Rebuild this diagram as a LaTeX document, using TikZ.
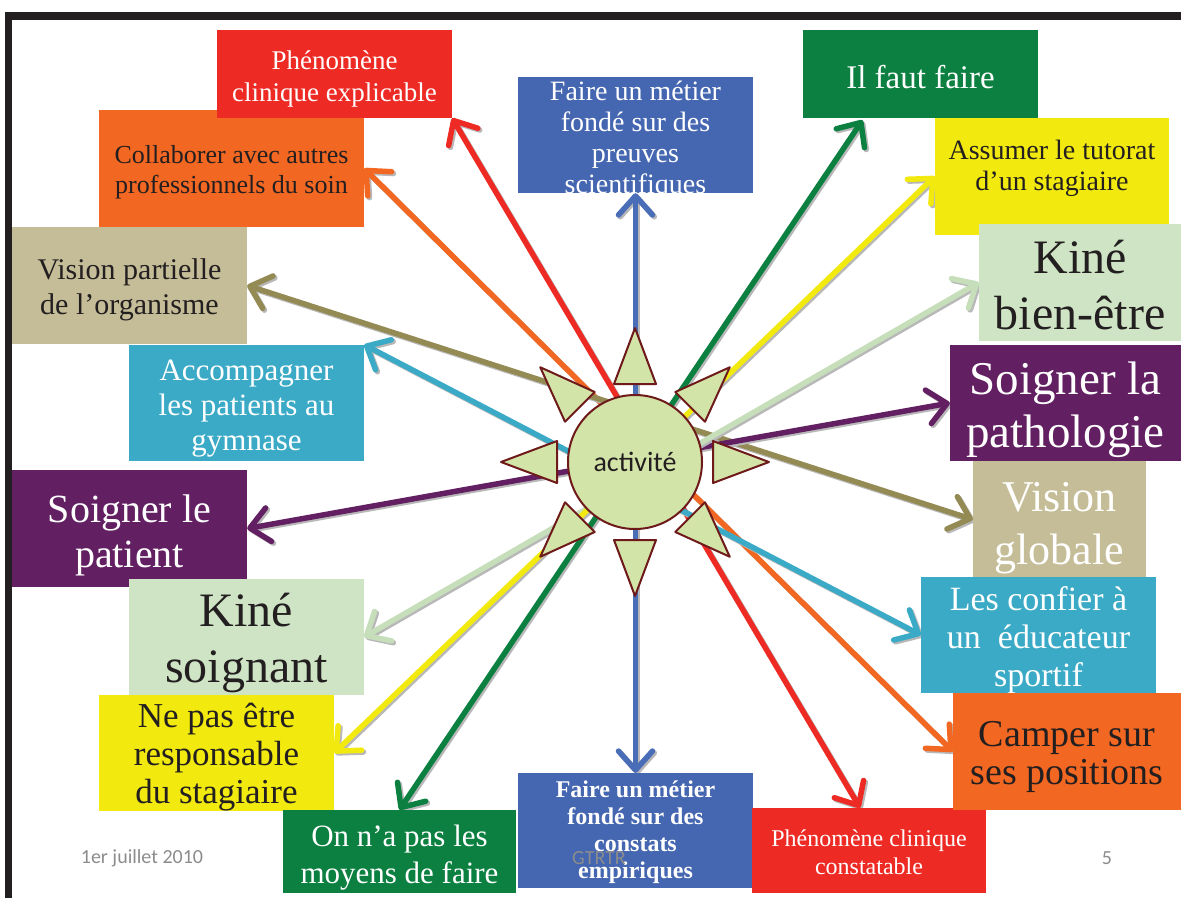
\documentclass[tikz,border=0pt]{standalone}
\usepackage{fontspec}
\setmainfont{Liberation Serif}
\newfontfamily\calib{Carlito}
\usetikzlibrary{arrows.meta,calc}
\pgfdeclarelayer{back}
\pgfdeclarelayer{bg}
\pgfsetlayers{back,bg,main}
\definecolor{cRed}{HTML}{EE2A24}
\definecolor{cOrange}{HTML}{F26722}
\definecolor{cBlue}{HTML}{4566B0}
\definecolor{cBlueL}{HTML}{4A6DB8}
\definecolor{cGreen}{HTML}{0B8040}
\definecolor{cYellow}{HTML}{F2E90F}
\definecolor{cLight}{HTML}{CFE4C4}
\definecolor{cLightA}{HTML}{C6DEBA}
\definecolor{cPurple}{HTML}{621F62}
\definecolor{cTan}{HTML}{C4BD97}
\definecolor{cTanD}{HTML}{948A54}
\definecolor{cCyan}{HTML}{3BAAC6}
\definecolor{cDark}{HTML}{231F20}
\definecolor{cBall}{HTML}{D3E4A8}
\definecolor{cBallEdge}{HTML}{6E1A1A}
\definecolor{cFrame}{HTML}{231F20}
\definecolor{cFoot}{HTML}{8C8C8C}
\tikzset{
  box/.style={rectangle, inner sep=0pt, draw=none},
  txt/.style={inner sep=0pt, align=center},
  fs/.style 2 args={font=\fontsize{#1}{#2}\selectfont},
  fsb/.style 2 args={font=\fontsize{#1}{#2}\selectfont\bfseries},
  barb/.tip={Straight Barb[length=19pt,width=34pt,round]},
  link/.style={line width=5.5pt, barb-barb},
  linkshadow/.style={link, draw=black!28, transform canvas={shift={(1.8pt,-1.8pt)}}},
  bump/.style={fill=cBall, draw=cBallEdge, line width=2pt, line join=round},
  foot/.style={text=cFoot, font=\calib\fontsize{20}{24}\selectfont, inner sep=0pt},
}
\newcommand\conn[3]{%
  \draw[linkshadow] (#2) -- (#3);
  \draw[link, draw=#1] (#2) -- (#3);}
\begin{document}
\begin{tikzpicture}[x=1pt, y=-1pt]
\useasboundingbox (0,0) rectangle (1181,898);
\begin{pgfonlayer}{back}
\fill[white] (0,0) rectangle (1181,898);
\end{pgfonlayer}
% frame
\fill[cFrame] (5,12) rectangle (1181,20);
\fill[cFrame] (5,12) rectangle (12,898);
% footer
\node[foot] (date) at (142,858) {1er juillet 2010};
\node[foot] (page) at (1107,858) {5};
% left boxes
\node[box, fill=cOrange, minimum width=265pt, minimum height=117pt] (collab) at (231.5,168.5) {};
\node[txt, text=cDark, fs={26}{30}] (collabT) at ($(collab)+(0,4)$) {Collaborer avec autres\\professionnels du soin};
\node[box, fill=cRed, minimum width=235pt, minimum height=88pt] (expl) at (334.5,74) {};
\node[txt, text=white, fs={27}{32}] (explT) at ($(expl)+(0,5)$) {Phénomène\\clinique explicable};
\node[box, fill=cTan, minimum width=235pt, minimum height=117pt] (partielle) at (129.5,285.5) {};
\node[txt, text=cDark, fs={30}{35}] (partielleT) at ($(partielle)+(0,4)$) {Vision partielle\\de l’organisme};
\node[box, fill=cCyan, minimum width=235pt, minimum height=116pt] (accomp) at (246.5,403) {};
\node[txt, text=white, fs={31}{35}] (accompT) at ($(accomp)+(0,6)$) {Accompagner\\les patients au\\gymnase};
\node[box, fill=cPurple, minimum width=235pt, minimum height=117pt] (patient) at (129.5,528.5) {};
\node[txt, text=white, fs={40}{45}] (patientT) at ($(patient)+(0,7)$) {Soigner le\\patient};
\node[box, fill=cLight, minimum width=235pt, minimum height=116pt] (soignant) at (246.5,637) {};
\node[txt, text=cDark, fs={48}{56}] (soignantT) at ($(soignant)+(0,6)$) {Kiné\\soignant};
\node[box, fill=cYellow, minimum width=235pt, minimum height=116pt] (nepas) at (216.5,753) {};
\node[txt, text=cDark, fs={35}{38}] (nepasT) at ($(nepas)+(0,4)$) {Ne pas être\\responsable\\du stagiaire};
\node[box, fill=cGreen, minimum width=233pt, minimum height=83pt] (onna) at (399.5,851.5) {};
\node[txt, text=white, fs={31}{37}] (onnaT) at ($(onna)+(0,6)$) {On n’a pas les\\moyens de faire};
% middle boxes
\node[box, fill=cBlue, minimum width=235pt, minimum height=115pt] (constats) at (635.5,830.5) {};
\node[txt, text=white, fsb={24}{27}] (constatsT) at ($(constats)+(0,2)$) {Faire un métier\\fondé sur des\\constats\\empiriques};
\node[box, fill=cBlue, minimum width=235pt, minimum height=116pt] (preuves) at (635.5,135) {};
\node[txt, text=white, fs={28}{31}] (preuvesT) at ($(preuves)+(0,5)$) {Faire un métier\\fondé sur des\\preuves\\scientifiques};
% right boxes
\node[box, fill=cRed, minimum width=234pt, minimum height=85pt] (const) at (869,850.5) {};
\node[txt, text=white, fs={24}{28}] (constT) at ($(const)+(0,2)$) {Phénomène clinique\\constatable};
\node[box, fill=cGreen, minimum width=235pt, minimum height=88pt] (ilfaut) at (920.5,74) {};
\node[txt, text=white, fs={33}{38}] (ilfautT) at ($(ilfaut)+(0,3)$) {Il faut faire};
\node[box, fill=cYellow, minimum width=234pt, minimum height=117pt] (tutorat) at (1052,176.5) {};
\node[txt, text=cDark, fs={28}{31}] (tutoratT) at ($(tutorat)+(0,-8)$) {Assumer le tutorat\\d’un stagiaire};
\node[box, fill=cLight, minimum width=202pt, minimum height=117pt] (bienetre) at (1080,282.5) {};
\node[txt, text=cDark, fs={48}{56}] (bienetreT) at ($(bienetre)+(0,3)$) {Kiné\\bien-être};
\node[box, fill=cPurple, minimum width=231pt, minimum height=116pt] (patho) at (1065.5,403) {};
\node[txt, text=white, fs={47}{53}] (pathoT) at ($(patho)+(0,7)$) {Soigner la\\pathologie};
\node[box, fill=cTan, minimum width=173pt, minimum height=117pt] (globale) at (1059.5,519.5) {};
\node[txt, text=white, fs={44}{53}] (globaleT) at ($(globale)+(0,9)$) {Vision\\globale};
\node[box, fill=cCyan, minimum width=235pt, minimum height=116pt] (confier) at (1038.5,635) {};
\node[txt, text=white, fs={34}{38}] (confierT) at ($(confier)+(0,5)$) {Les confier à\\un\ \ éducateur\\sportif};
\node[box, fill=cOrange, minimum width=228pt, minimum height=117pt] (camper) at (1067,751.5) {};
\node[txt, text=cDark, fs={38}{38}] (camperT) at ($(camper)+(0,5)$) {Camper sur\\ses positions};
\node[foot] (gtrtr) at (599,858) {GTRTR};
% centre
\node[circle, bump, minimum size=134pt, inner sep=0pt, text=cDark, font=\calib\fontsize{28}{30}\selectfont] (act) at (635,462) {activité};
\foreach \a in {0,45,...,315}{
  \filldraw[bump] ($(act.center)+(\a:134)$) -- ($(act.center)+(\a:78)+(\a+90:21)$) -- ($(act.center)+(\a:78)+(\a-90:21)$) -- cycle;
}
% connectors
\begin{pgfonlayer}{bg}
\conn{cRed}{expl.south east}{$(const.north)+(-9,0)$}
\conn{cOrange}{collab.east}{camper.west}
\conn{cBlueL}{preuves.south}{constats.north}
\conn{cTanD}{partielle.east}{globale.west}
\conn{cCyan}{accomp.north east}{confier.west}
\conn{cPurple}{patient.east}{patho.west}
\conn{cLightA}{soignant.east}{bienetre.west}
\conn{cYellow}{nepas.east}{tutorat.west}
\conn{cGreen}{$(ilfaut.south)+(-58,2)$}{onna.north}
\end{pgfonlayer}
\end{tikzpicture}
\end{document}
